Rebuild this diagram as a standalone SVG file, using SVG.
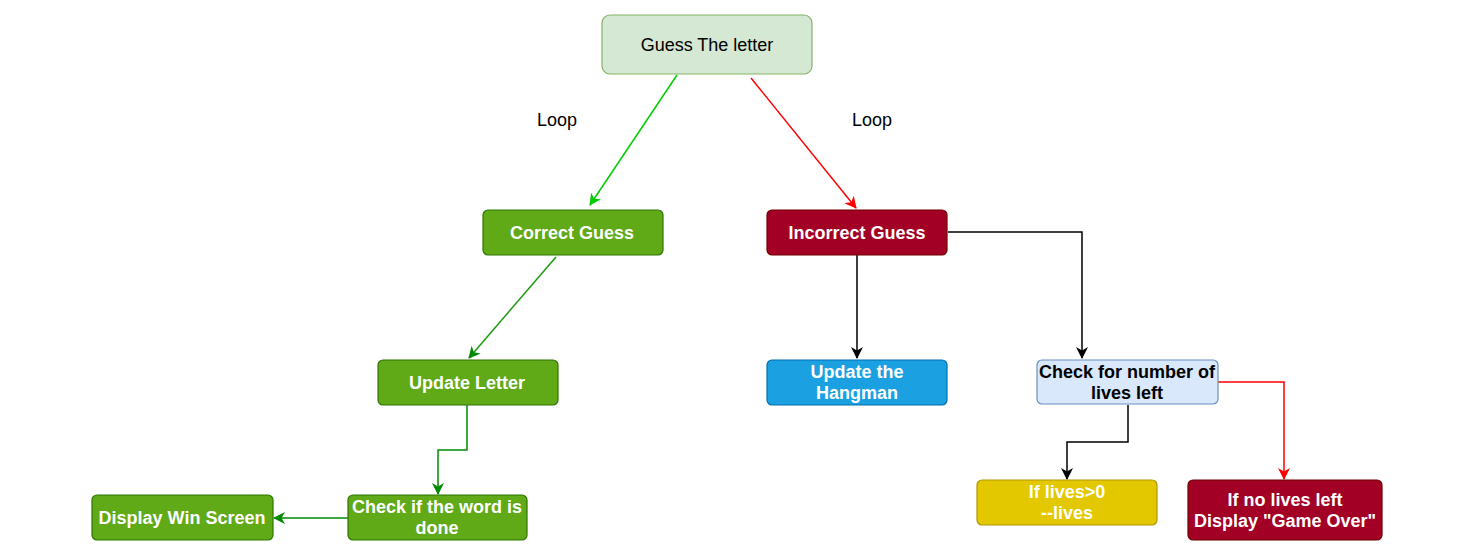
<svg xmlns="http://www.w3.org/2000/svg" width="1482" height="554" viewBox="0 0 1482 554">
<style>
.t{font-family:"Liberation Sans",Arial,sans-serif;font-size:18px;text-anchor:middle;dominant-baseline:central}
.w{fill:#ffffff;font-weight:bold}
.k{fill:#000000;font-weight:bold}
.n{fill:#000000}
.c{fill:none;stroke-width:1.5}
</style>
<defs>
<marker id="ag" markerUnits="userSpaceOnUse" markerWidth="13" markerHeight="12" refX="11" refY="6" orient="auto"><path d="M0,0 L12,6 L0,12 L3.5,6 z" fill="#00cc00"/></marker>
<marker id="ad" markerUnits="userSpaceOnUse" markerWidth="13" markerHeight="12" refX="11" refY="6" orient="auto"><path d="M0,0 L12,6 L0,12 L3.5,6 z" fill="#008a00"/></marker>
<marker id="ar" markerUnits="userSpaceOnUse" markerWidth="13" markerHeight="12" refX="11" refY="6" orient="auto"><path d="M0,0 L12,6 L0,12 L3.5,6 z" fill="#ff0000"/></marker>
<marker id="ak" markerUnits="userSpaceOnUse" markerWidth="13" markerHeight="12" refX="11" refY="6" orient="auto"><path d="M0,0 L12,6 L0,12 L3.5,6 z" fill="#000000"/></marker>
</defs>
<rect width="1482" height="554" fill="#ffffff"/>
<g id="connectors">
<line class="c" x1="677" y1="75" x2="590" y2="205" stroke="#00cc00" marker-end="url(#ag)"/>
<line class="c" x1="751" y1="78" x2="856" y2="208" stroke="#ff0000" marker-end="url(#ar)"/>
<line class="c" x1="556" y1="257" x2="469" y2="358" stroke="#1a9a0a" marker-end="url(#ad)"/>
<polyline class="c" points="467,405 467,450 438,450 438,494" stroke="#008a00" marker-end="url(#ad)"/>
<line class="c" x1="348" y1="518" x2="274" y2="518" stroke="#008a00" marker-end="url(#ad)"/>
<line class="c" x1="857" y1="255" x2="857" y2="358" stroke="#000000" marker-end="url(#ak)"/>
<polyline class="c" points="948,232 1082,232 1082,358" stroke="#000000" marker-end="url(#ak)"/>
<polyline class="c" points="1128,405 1128,442 1067,442 1067,479" stroke="#000000" marker-end="url(#ak)"/>
<polyline class="c" points="1218,382 1284,382 1284,479" stroke="#ff0000" marker-end="url(#ar)"/>
<text class="t n" x="557" y="120">Loop</text>
<text class="t n" x="872" y="120">Loop</text>
</g>
<g id="guess">
<rect x="602" y="15" width="210" height="59" rx="8" fill="#d5e8d4" stroke="#82b366" stroke-width="1.2"/>
<text class="t n" x="707" y="45">Guess The letter</text>
</g>
<g id="correct">
<rect x="483" y="210" width="180" height="45" rx="5" fill="#60a917" stroke="#2d7600" stroke-width="1.2"/>
<text class="t w" x="572" y="233">Correct Guess</text>
</g>
<g id="incorrect">
<rect x="767" y="210" width="180" height="45" rx="5" fill="#a20025" stroke="#6f0000" stroke-width="1.2"/>
<text class="t w" x="857" y="233">Incorrect Guess</text>
</g>
<g id="update-letter">
<rect x="378" y="360" width="180" height="45" rx="5" fill="#60a917" stroke="#2d7600" stroke-width="1.2"/>
<text class="t w" x="467" y="383">Update Letter</text>
</g>
<g id="check-word">
<rect x="348" y="495" width="179" height="45" rx="5" fill="#60a917" stroke="#2d7600" stroke-width="1.2"/>
<text class="t w" x="437" y="507">Check if the word is</text>
<text class="t w" x="437" y="528">done</text>
</g>
<g id="win">
<rect x="92" y="495" width="181" height="45" rx="5" fill="#60a917" stroke="#2d7600" stroke-width="1.2"/>
<text class="t w" x="182" y="518">Display Win Screen</text>
</g>
<g id="hangman">
<rect x="767" y="360" width="180" height="45" rx="5" fill="#1ba1e2" stroke="#006eaf" stroke-width="1.2"/>
<text class="t w" x="857" y="372">Update the</text>
<text class="t w" x="857" y="393">Hangman</text>
</g>
<g id="check-lives">
<rect x="1037" y="360" width="181" height="44" rx="5" fill="#dae8fc" stroke="#6c8ebf" stroke-width="1.2"/>
<text class="t k" x="1127" y="372">Check for number of</text>
<text class="t k" x="1127" y="393">lives left</text>
</g>
<g id="lives-left">
<rect x="977" y="480" width="180" height="45" rx="5" fill="#e3c800" stroke="#b09500" stroke-width="1.2"/>
<text class="t w" x="1067" y="492">If lives&gt;0</text>
<text class="t w" x="1067" y="513">--lives</text>
</g>
<g id="game-over">
<rect x="1188" y="480" width="194" height="60" rx="5" fill="#a20025" stroke="#6f0000" stroke-width="1.2"/>
<text class="t w" x="1285" y="500">If no lives left</text>
<text class="t w" x="1285" y="521">Display "Game Over"</text>
</g>
</svg>
